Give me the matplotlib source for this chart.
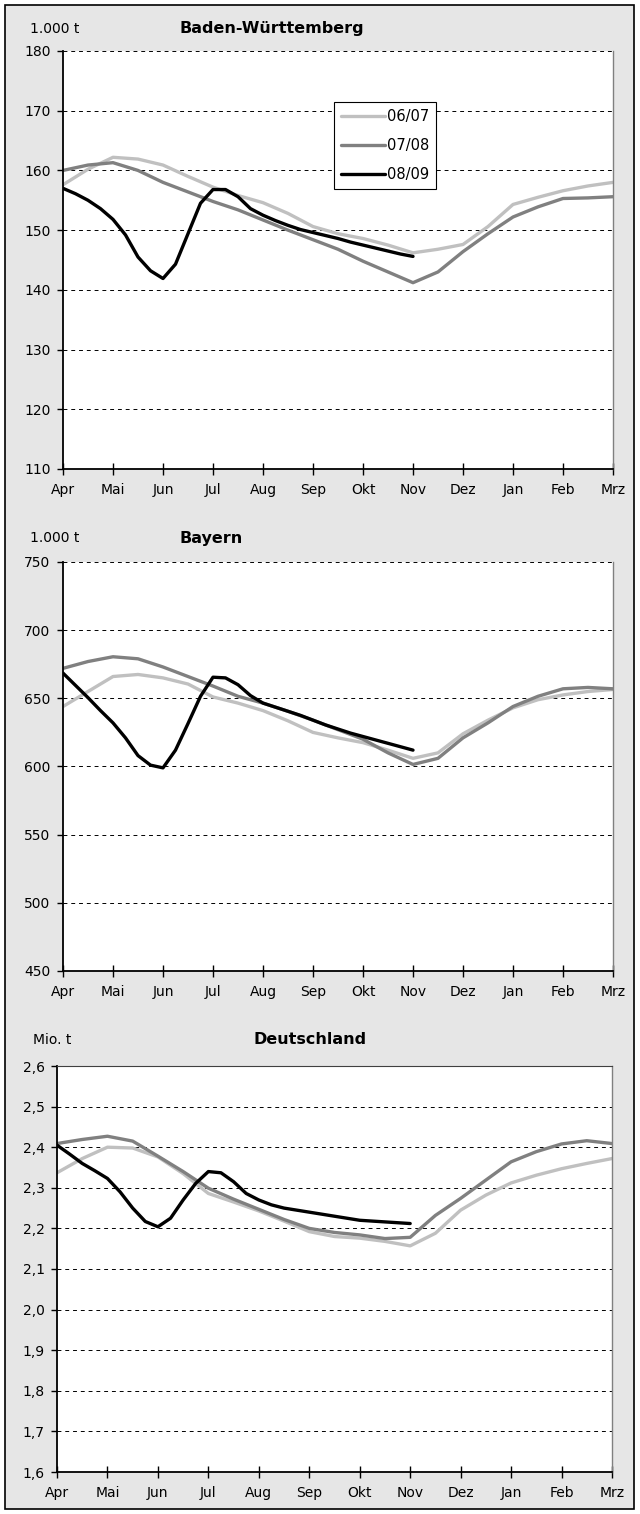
import numpy as np
import matplotlib.pyplot as plt
from matplotlib.patches import Rectangle
from matplotlib.ticker import FuncFormatter

months = ['Apr', 'Mai', 'Jun', 'Jul', 'Aug', 'Sep', 'Okt', 'Nov', 'Dez', 'Jan', 'Feb', 'Mrz']
seasons = ['06/07', '07/08', '08/09']

# half-month steps Apr..Mrz for 06/07 and 07/08, quarter-month steps Apr..Nov for 08/09
x_half = np.arange(23) / 2
x_quarter = np.arange(29) / 4

# Baden-Württemberg, 1.000 t
bw_0607 = [157.6, 160.2, 162.2, 161.9, 160.9, 159.0, 157.2, 155.8, 154.6, 152.8, 150.6, 149.4,
           148.6, 147.5, 146.2, 146.8, 147.6, 150.6, 154.3, 155.5, 156.6, 157.4, 158.0]
bw_0708 = [160.0, 160.9, 161.3, 160.0, 158.0, 156.4, 154.8, 153.4, 151.7, 150.0, 148.4, 146.8,
           144.8, 143.0, 141.2, 143.0, 146.4, 149.4, 152.2, 153.9, 155.3, 155.4, 155.6]
bw_0809 = [157.0, 156.1, 155.0, 153.6, 151.8, 149.2, 145.5, 143.2, 141.9, 144.3, 149.4, 154.5,
           156.8, 156.8, 155.6, 153.6, 152.5, 151.6, 150.8, 150.1, 149.6, 149.1, 148.6, 148.0,
           147.5, 147.0, 146.5, 146.0, 145.6]

# Bayern, 1.000 t
by_0607 = [644.0, 655.0, 666.0, 667.5, 665.0, 660.5, 651.0, 646.5, 641.0, 633.5, 625.0, 621.0,
           617.5, 612.0, 606.0, 610.0, 624.0, 634.0, 643.0, 649.0, 652.5, 655.0, 656.5]
by_0708 = [672.0, 677.0, 680.5, 679.0, 673.0, 666.0, 659.0, 651.5, 646.5, 640.5, 634.0, 627.0,
           620.0, 610.0, 601.5, 606.0, 621.0, 632.0, 644.0, 651.5, 657.0, 658.0, 657.0]
by_0809 = [668.5, 659.5, 650.5, 641.0, 632.0, 621.0, 608.0, 601.0, 599.0, 612.0, 631.5, 651.5,
           665.5, 665.0, 660.0, 652.0, 646.5, 643.5, 640.5, 637.5, 634.0, 630.5, 627.5, 624.5,
           622.0, 619.5, 617.0, 614.5, 612.0]

# Deutschland, Mio. t
de_0607 = [2.337, 2.372, 2.400, 2.398, 2.376, 2.335, 2.286, 2.265, 2.243, 2.218, 2.192, 2.180,
           2.176, 2.168, 2.157, 2.188, 2.245, 2.282, 2.312, 2.331, 2.347, 2.360, 2.372]
de_0708 = [2.409, 2.419, 2.427, 2.415, 2.378, 2.340, 2.299, 2.272, 2.247, 2.222, 2.200, 2.190,
           2.184, 2.175, 2.178, 2.232, 2.274, 2.319, 2.364, 2.389, 2.408, 2.416, 2.409]
de_0809 = [2.405, 2.383, 2.360, 2.342, 2.323, 2.290, 2.250, 2.217, 2.204, 2.225, 2.270, 2.311,
           2.340, 2.337, 2.315, 2.286, 2.270, 2.258, 2.250, 2.245, 2.240, 2.235, 2.230, 2.225,
           2.220, 2.218, 2.216, 2.214, 2.212]

colors = ['#c0c0c0', '#808080', '#000000']

plt.rcParams['font.family'] = ['DejaVu Sans']
plt.rcParams['font.size'] = 10

W, H = 640, 1514
fig = plt.figure(figsize=(W / 100, H / 100), dpi=100)
fig.add_artist(Rectangle((5 / W, 5 / H), 629 / W, 1504 / H, transform=fig.transFigure,
                         facecolor='#e6e6e6', edgecolor='black', lw=1.2, zorder=-5))

panels = [
    # left, right, top, bottom in pixels, y range, step, unit, title, unit x, title x, text y
    ((63, 613, 51, 469), (110, 180), 10, '1.000 t', 'Baden-Württemberg', 55, 272, 29,
     (bw_0607, bw_0708, bw_0809)),
    ((63, 613, 562, 971), (450, 750), 50, '1.000 t', 'Bayern', 55, 211, 538,
     (by_0607, by_0708, by_0809)),
    ((57, 612, 1066, 1472), (1.6, 2.6), 0.1, 'Mio. t', 'Deutschland', 52, 310, 1040,
     (de_0607, de_0708, de_0809)),
]

for i, (box, ylim, step, unit, title, ux, tx, ty, data) in enumerate(panels):
    l, r, t, b = box
    ax = fig.add_axes([l / W, 1 - b / H, (r - l) / W, (b - t) / H])
    ax.set_facecolor('white')

    xs = [x_half, x_half, x_quarter]
    for k in range(3):
        ax.plot(xs[k], data[k], color=colors[k], lw=2.4, label=seasons[k],
                solid_capstyle='round', solid_joinstyle='round')

    ax.set_xlim(0, 11)
    ax.set_ylim(*ylim)
    ax.set_xticks(range(12))
    ax.set_xticklabels(months)
    ax.set_yticks(np.arange(ylim[0], ylim[1] + step / 2, step))
    if i == 2:
        ax.yaxis.set_major_formatter(FuncFormatter(lambda v, p: f'{v:.1f}'.replace('.', ',')))
    else:
        ax.yaxis.set_major_formatter(FuncFormatter(lambda v, p: f'{v:.0f}'))

    ax.grid(axis='y', color='black', ls=(0, (4, 4)), lw=0.7)
    ax.set_axisbelow(True)
    ax.tick_params(axis='x', direction='inout', length=8, width=1, pad=6)
    ax.tick_params(axis='y', direction='out', length=4, width=1, pad=5)
    for s in ['left', 'bottom']:
        ax.spines[s].set_linewidth(1.3)
        ax.spines[s].set_color('black')
    ax.spines['right'].set_color('#808080')
    ax.spines['right'].set_linewidth(1)
    if i == 2:
        ax.spines['top'].set_color('#404040')
    else:
        ax.spines['top'].set_visible(False)

    fig.text(ux / W, 1 - ty / H, unit, ha='center', va='center', fontsize=10)
    fig.text(tx / W, 1 - ty / H, title, ha='center', va='center', fontsize=11.5, fontweight='bold')

    if i == 0:
        leg = ax.legend(loc='upper left', bbox_to_anchor=(0.493, 0.878), fancybox=False,
                        framealpha=1, edgecolor='black', handlelength=3.0, handletextpad=0.1,
                        labelspacing=0.95, borderpad=0.5, borderaxespad=0, fontsize=10.5)
        leg.get_frame().set_linewidth(0.8)

fig.savefig('out.png', dpi=100)
